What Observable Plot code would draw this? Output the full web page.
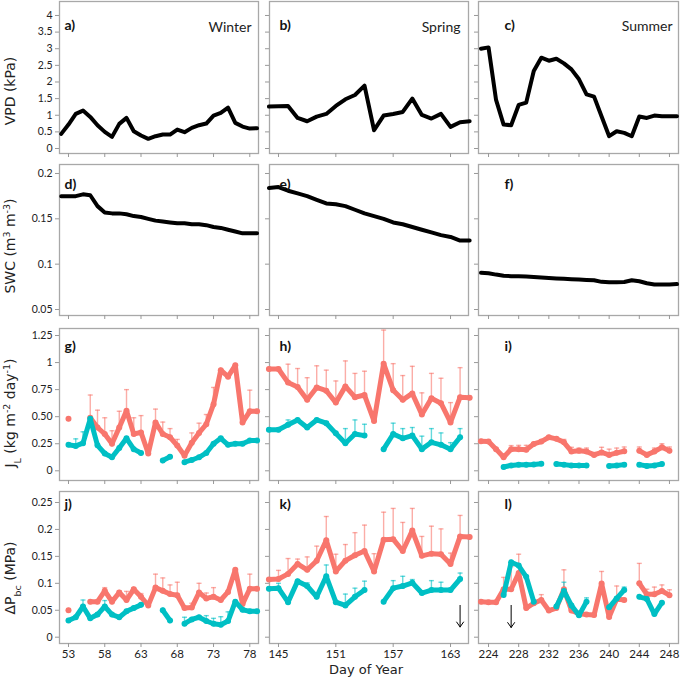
<!DOCTYPE html>
<html><head><meta charset="utf-8">
<script src="https://cdn.jsdelivr.net/npm/d3@7"></script>
<script src="https://cdn.jsdelivr.net/npm/@observablehq/plot@0.6"></script>
<style>
body{margin:0;background:#fff;}
#chart{position:relative;width:685px;height:677px;overflow:hidden;background:#fff;}
</style></head><body><div id="chart"></div>
<script>
// ---------------- DATA ----------------
const daysWinterA = [52,53,54,55,56,57,58,59,60,61,62,63,64,65,66,67,68,69,70,71,72,73,74,75,76,77,78,79];
const daysWinterB = [53,54,55,56,57,58,59,60,61,62,63,64,65,66,67,68,69,70,71,72,73,74,75,76,77,78,79];
const daysSpring = [144,145,146,147,148,149,150,151,152,153,154,155,156,157,158,159,160,161,162,163,164,165];
const daysSummer = [223,224,225,226,227,228,229,230,231,232,233,234,235,236,237,238,239,240,241,242,243,244,245,246,247,248,249];

const vpdWinter = [0.44,0.72,1.04,1.14,0.95,0.70,0.50,0.35,0.74,0.92,0.52,0.39,0.29,0.37,0.42,0.42,0.57,0.49,0.62,0.70,0.75,0.99,1.07,1.23,0.77,0.66,0.60,0.61];
const vpdSpring = [1.26,1.27,1.28,0.92,0.82,0.96,1.04,1.28,1.48,1.61,1.89,0.55,0.99,1.04,1.10,1.50,1.01,0.90,1.04,0.65,0.79,0.82];
const vpdSummer = [3.00,3.04,1.46,0.72,0.70,1.31,1.38,2.33,2.73,2.64,2.70,2.56,2.38,2.08,1.63,1.56,0.96,0.37,0.52,0.47,0.37,0.96,0.92,0.99,0.97,0.97,0.97];

const swcWinter = [0.175,0.175,0.175,0.177,0.176,0.164,0.157,0.156,0.156,0.155,0.153,0.152,0.150,0.148,0.147,0.146,0.145,0.145,0.144,0.144,0.143,0.141,0.140,0.138,0.136,0.134,0.134,0.134];
const swcSpring = [0.184,0.185,0.181,0.178,0.175,0.171,0.167,0.166,0.164,0.160,0.156,0.153,0.150,0.146,0.144,0.141,0.138,0.135,0.132,0.130,0.126,0.126];
const swcSummer = [0.0905,0.0900,0.0885,0.0872,0.0868,0.0866,0.0863,0.0859,0.0853,0.0848,0.0843,0.0838,0.0834,0.0830,0.0826,0.0822,0.0805,0.0800,0.0802,0.0803,0.0822,0.0812,0.0790,0.0776,0.0775,0.0777,0.0780];

// J_L (red / cyan series, with upper error-bar ends)
const jlWinterRed = [0.48,null,null,0.49,0.40,0.34,0.25,0.40,0.555,0.34,0.355,0.16,0.447,0.34,0.31,0.233,0.14,0.26,0.35,0.43,0.616,0.93,0.87,0.975,0.447,0.55,0.55];
const jlWinterRedErr = [null,null,null,0.70,0.56,0.49,0.37,0.55,0.75,0.49,0.51,null,0.57,0.45,0.39,0.29,null,0.35,0.44,0.52,0.77,null,null,null,null,0.745,null];
const jlWinterCyan = [0.24,0.23,0.255,0.48,0.235,0.16,0.125,0.21,0.30,0.20,0.165,null,null,0.095,0.13,null,0.08,0.10,0.125,0.165,0.25,0.30,0.24,0.25,0.25,0.28,0.28];
const jlWinterCyanErr = [null,0.295,0.36,null,null,null,null,null,null,null,null,null,null,null,null,null,null,null,null,null,null,null,null,null,null,null,null];

const jlSpringRed = [0.94,0.94,0.815,0.775,0.656,0.77,0.74,0.63,0.78,0.68,0.70,0.46,0.99,0.745,0.656,0.715,0.52,0.67,0.625,0.447,0.68,0.675];
const jlSpringRedErr = [null,null,0.985,0.945,0.86,0.97,0.93,0.83,1.015,0.90,0.92,0.52,1.30,0.99,0.88,0.965,0.72,0.90,0.855,0.63,0.953,null];
const jlSpringCyan = [0.38,0.38,0.425,0.47,0.40,0.47,0.44,0.346,0.254,0.34,0.325,null,0.20,0.34,0.30,0.325,0.20,0.263,0.24,0.20,0.31,null];
const jlSpringCyanErr = [null,null,0.47,null,null,null,0.455,null,0.39,0.47,0.43,null,null,0.44,0.39,0.40,0.32,0.39,0.35,0.26,0.39,null];

const jlSummerRed = [0.272,0.27,0.20,0.125,0.20,0.20,0.195,0.248,0.27,0.31,0.295,0.263,0.178,0.185,0.178,0.147,0.17,0.147,0.166,0.18,null,0.185,0.147,0.178,0.217,0.185,null];
const jlSummerRedErr = [null,null,null,null,0.233,0.235,0.235,0.26,0.275,null,0.31,0.29,0.217,0.21,0.21,0.17,0.217,0.20,0.21,0.22,null,0.22,0.17,0.21,0.25,0.22,null];
const jlSummerCyan = [null,null,null,0.035,0.05,0.055,0.055,0.058,0.065,null,0.063,0.057,0.05,0.05,0.05,null,null,0.045,0.05,0.057,null,0.057,0.045,0.05,0.063,null,null];
const jlSummerCyanErr = [null,null,null,null,null,null,null,null,null,null,null,null,null,null,null,null,null,null,null,null,null,null,null,null,null,null,null];

// ΔP_bc
const dpWinterRed = [0.050,null,null,0.066,0.066,0.086,0.066,0.083,0.069,0.089,0.075,0.059,0.092,0.086,0.080,0.078,0.054,0.055,0.083,0.072,0.075,0.069,0.084,0.125,0.0615,0.090,0.090];
const dpWinterRedErr = [null,null,null,null,null,0.092,null,0.086,0.085,0.092,0.081,null,0.117,0.110,0.097,0.102,null,0.063,0.10,0.082,0.092,null,null,null,null,0.117,null];
const dpWinterCyan = [0.031,0.037,0.057,0.035,0.042,0.057,0.042,0.037,0.048,0.054,0.060,null,null,0.050,0.031,null,0.025,0.033,0.037,0.030,0.025,0.023,0.030,0.066,0.051,0.048,0.048];
const dpWinterCyanErr = [null,null,0.069,null,null,0.068,null,null,null,null,null,null,null,null,null,null,0.037,null,null,0.040,0.035,0.038,0.047,null,null,null,null];

const dpSpringRed = [0.107,0.108,0.1175,0.136,0.125,0.142,0.180,0.122,0.142,0.152,0.160,0.122,0.181,0.182,0.160,0.198,0.151,0.155,0.154,0.136,0.187,0.186];
const dpSpringRedErr = [null,0.124,0.146,0.145,0.149,0.169,0.224,0.154,0.172,0.194,0.208,0.155,0.232,0.239,0.213,0.239,0.187,0.206,0.201,0.156,0.226,null];
const dpSpringCyan = [0.090,0.091,0.065,0.104,0.095,0.075,0.113,0.065,0.059,0.075,0.0875,null,0.066,0.091,0.095,0.101,0.082,0.0875,0.0875,0.0875,0.108,null];
const dpSpringCyanErr = [null,0.100,null,null,0.101,null,0.134,null,0.080,0.091,0.104,null,null,0.105,0.113,0.107,null,0.105,0.102,null,0.119,null];

const dpSummerRed = [0.066,0.065,0.065,0.089,0.089,0.119,0.054,0.063,0.069,0.0495,0.054,0.089,0.0495,0.0434,0.042,0.041,0.0995,0.0374,0.071,0.069,null,0.100,0.0796,0.0796,0.0857,0.078,null];
const dpSummerRedErr = [null,null,null,0.111,0.131,0.154,null,null,0.079,null,null,0.125,null,null,null,null,0.122,null,0.095,null,null,0.137,0.089,0.093,0.097,0.088,null];
const dpSummerCyan = [null,null,null,0.0785,0.139,0.133,0.112,0.066,null,null,0.057,0.0857,0.059,0.0405,0.066,null,null,0.0555,0.072,0.0875,null,0.075,0.071,0.043,0.064,null,null];
const dpSummerCyanErr = [null,null,null,null,null,null,null,null,null,null,null,0.102,null,null,0.073,null,null,null,null,0.093,null,null,null,null,null,null,null];

// annotation arrows (day, from, to)
const arrowSpring = [{day:164, y1:0.059, y2:0.019}];
const arrowSummer = [{day:227, y1:0.059, y2:0.018}];

// ticks
const xTicks = [[53,58,63,68,73,78],[145,151,157,163],[224,228,232,236,240,244,248]];
const xTickLabels = [["53","58","63","68","73","78"],["145","151","157","163"],["224","228","232","236","240","244","248"]];
const yTicks = [[0,0.5,1,1.5,2,2.5,3,3.5,4],[0.05,0.1,0.15,0.2],[0,0.25,0.5,0.75,1,1.25],[0,0.05,0.1,0.15,0.2,0.25]];
const yTickLabels = [["0","0.5","1","1.5","2","2.5","3","3.5","4"],["0.05","0.1","0.15","0.2"],["0","0.25","0.50","0.75","1","1.25"],["0","0.05","0.1","0.15","0.2","0.25"]];

const panelLetters = [["a)","b)","c)"],["d)","e)","f)"],["g)","h)","i)"],["j)","k)","l)"]];
const seasons = ["Winter","Spring","Summer"];

// ---------------- LAYOUT ----------------
const RED = "#F8766D", CYAN = "#00BFC4";
const colX = [[59,258],[269,468],[478,678]];
const rowY = [[1,153],[164,315],[328,480],[491,643]];
const xDomains = [[51.76,79.2],[144.06,164.88],[222.67,249.2]];
const yDomains = [[-0.15,4.42],[0.0434,0.2099],[-0.0896,1.3147],[-0.0117,0.2704]];
const capHalf = [0.345,0.26,0.33];
const letterDx = [5,10,26], letterDy = [19,15,13,7.5];
const seasonDx = [-7,-8,-6], seasonDy = [21,21,20];

const chart = document.getElementById("chart");

function rowsOf(days, vals, tops){ return days.map((d,i)=>({day:d, v:vals[i], top: tops ? tops[i] : null})); }

function dualMarks(c, days, rV, rT, cV, cT){
  const R = rowsOf(days, rV, rT), C = rowsOf(days, cV, cT);
  const cap = capHalf[c];
  const eb = (rows, col) => {
    const e = rows.filter(d => d.top != null && d.v != null);
    return [
      Plot.ruleX(e, {x:"day", y1:"v", y2:"top", stroke:col, strokeOpacity:0.6, strokeWidth:1.4}),
      Plot.link(e, {x1:d=>d.day-cap, x2:d=>d.day+cap, y1:"top", y2:"top", stroke:col, strokeOpacity:0.6, strokeWidth:1.4})
    ];
  };
  const ln = (rows, col) => [
    Plot.line(rows, {x:"day", y:"v", stroke:col, strokeWidth:5, strokeLinejoin:"round", strokeLinecap:"round"}),
    Plot.dot(rows, {x:"day", y:"v", r:3, fill:col})
  ];
  return [...eb(R,RED), ...eb(C,CYAN), ...ln(R,RED), ...ln(C,CYAN)];
}

function blackLine(days, vals){
  return [Plot.line(rowsOf(days, vals), {x:"day", y:"v", stroke:"#000", strokeWidth:4, strokeLinejoin:"round", strokeLinecap:"round"})];
}

function panel(c, r, marks){
  const [x0,x1] = colX[c], [y0,y1] = rowY[r];
  const ml = c === 0 ? 52 : 6, mr = 4, mt = 4, mb = r === 3 ? 24 : 8;
  const xMap = new Map(xTicks[c].map((d,i)=>[d, xTickLabels[c][i]]));
  const yMap = new Map(yTicks[r].map((d,i)=>[d, yTickLabels[r][i]]));
  const extra = [Plot.text([panelLetters[r][c]], {frameAnchor:"top-left", dx:letterDx[c], dy:letterDy[r], text:d=>d, textAnchor:"start", fontWeight:"bold", fontSize:14, fill:"#111"})];
  if (r === 0) extra.push(Plot.text([seasons[c]], {frameAnchor:"top-right", dx:seasonDx[c], dy:seasonDy[c], text:d=>d, textAnchor:"end", fontSize:14, fill:"#222"}));
  const svg = Plot.plot({
    width: x1-x0+ml+mr, height: y1-y0+mt+mb,
    marginLeft: ml, marginRight: mr, marginTop: mt, marginBottom: mb,
    x: {domain: xDomains[c]}, y: {domain: yDomains[r]},
    style: {fontFamily: "Lato, sans-serif", color: "#222", background: "transparent", overflow: "visible"},
    marks: [
      Plot.frame({stroke:"#a8a8a8", strokeWidth:1.3}),
      Plot.axisX({ticks: xTicks[c], tickFormat: r === 3 ? (d=>xMap.get(d)) : (()=>""), tickSize:4, tickPadding:2, stroke:"#999", fontSize:11.5, label:null}),
      Plot.axisY({ticks: yTicks[r], tickFormat: c === 0 ? (d=>yMap.get(d)) : (()=>""), tickSize:4, tickPadding:3, stroke:"#999", fontSize:10.5, label:null}),
      ...marks,
      ...extra
    ]
  });
  svg.style.position = "absolute";
  svg.style.left = (x0-ml) + "px";
  svg.style.top = (y0-mt) + "px";
  svg.style.maxWidth = "none";
  chart.appendChild(svg);
}

// Row 1 VPD
panel(0,0, blackLine(daysWinterA, vpdWinter));
panel(1,0, blackLine(daysSpring, vpdSpring));
panel(2,0, blackLine(daysSummer, vpdSummer));
// Row 2 SWC
panel(0,1, blackLine(daysWinterA, swcWinter));
panel(1,1, blackLine(daysSpring, swcSpring));
panel(2,1, blackLine(daysSummer, swcSummer));
// Row 3 J_L
panel(0,2, dualMarks(0, daysWinterB, jlWinterRed, jlWinterRedErr, jlWinterCyan, jlWinterCyanErr));
panel(1,2, dualMarks(1, daysSpring, jlSpringRed, jlSpringRedErr, jlSpringCyan, jlSpringCyanErr));
panel(2,2, dualMarks(2, daysSummer, jlSummerRed, jlSummerRedErr, jlSummerCyan, jlSummerCyanErr));
// Row 4 ΔP
const arrowOpts = {x1:"day", x2:"day", y1:"y1", y2:"y2", stroke:"#000", strokeWidth:1, headLength:9, headAngle:70};
panel(0,3, dualMarks(0, daysWinterB, dpWinterRed, dpWinterRedErr, dpWinterCyan, dpWinterCyanErr));
panel(1,3, [...dualMarks(1, daysSpring, dpSpringRed, dpSpringRedErr, dpSpringCyan, dpSpringCyanErr), Plot.arrow(arrowSpring, arrowOpts)]);
panel(2,3, [...dualMarks(2, daysSummer, dpSummerRed, dpSummerRedErr, dpSummerCyan, dpSummerCyanErr), Plot.arrow(arrowSummer, arrowOpts)]);

// ---------------- AXIS TITLES ----------------
const yTitles = [
  {cy: 91, parts: [["VPD (kPa)",""]]},
  {cy: 246, parts: [["SWC (m",""],["3","sup"],[" m",""],["-3","sup"],[")",""]]},
  {cy: 413, parts: [["J",""],["L","sub"],[" (kg m",""],["-2","sup"],[" day",""],["-1","sup"],[")",""]]},
  {cy: 578, parts: [["\u0394P",""],["bc","sub"],[" (MPa)",""]]}
];
const ov = d3.select(chart).append("svg")
  .attr("width",685).attr("height",677)
  .style("position","absolute").style("left","0px").style("top","0px").style("pointer-events","none")
  .attr("font-family","'DejaVu Sans', sans-serif").attr("font-size",14).attr("fill","#222");
for (const t of yTitles){
  const tx = ov.append("text").attr("transform",`translate(15,${t.cy}) rotate(-90)`).attr("text-anchor","middle");
  for (const [s,k] of t.parts){
    const ts = tx.append("tspan").text(s);
    if (k === "sup") ts.attr("baseline-shift","super").attr("font-size",9.5);
    if (k === "sub") ts.attr("baseline-shift","sub").attr("font-size",9.5);
  }
}
ov.append("text").attr("x",366).attr("y",674).attr("text-anchor","middle").attr("font-size",13).text("Day of Year");
</script>
</body></html>
